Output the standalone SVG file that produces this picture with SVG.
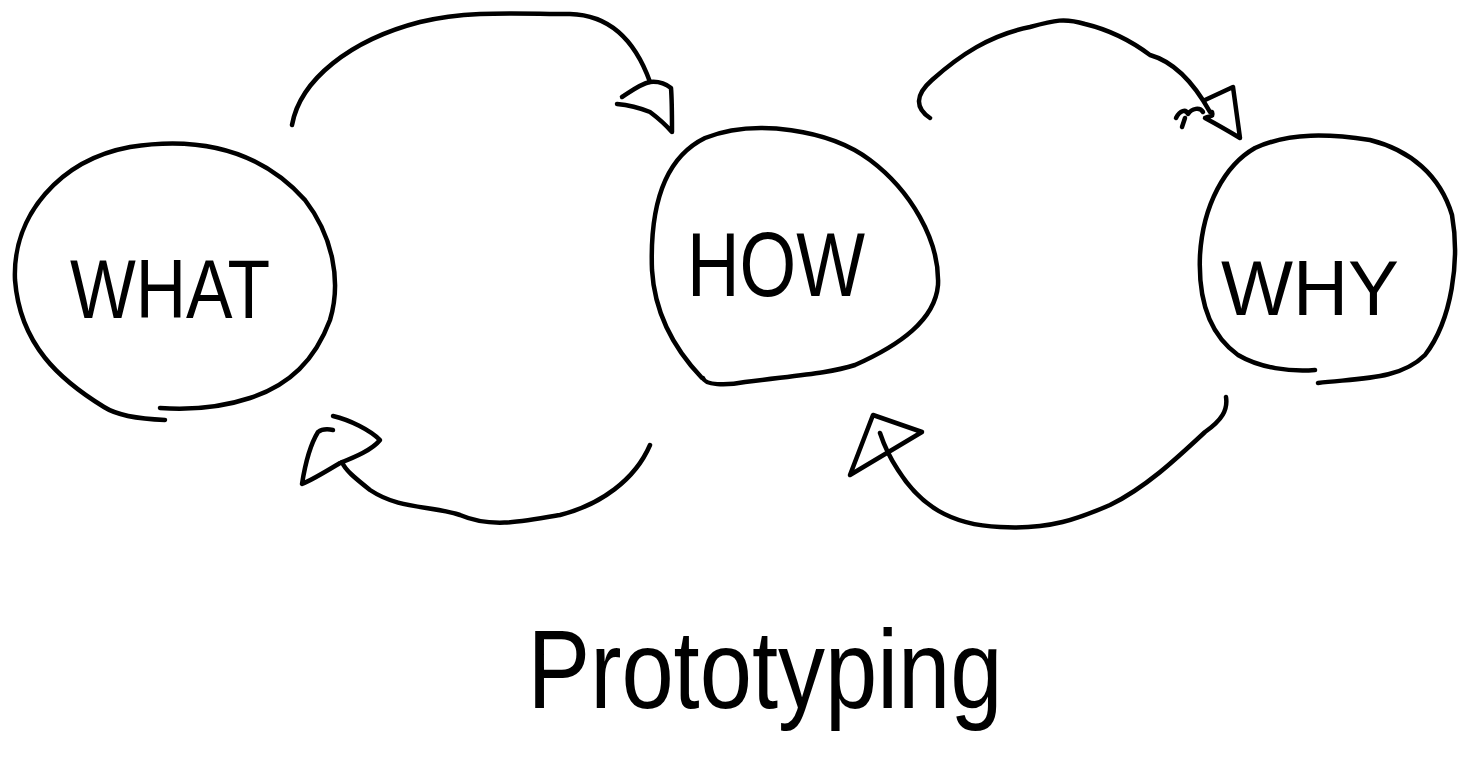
<svg xmlns="http://www.w3.org/2000/svg" width="1458" height="776" viewBox="0 0 1458 776">
<style>
.s{fill:none;stroke:#000;stroke-width:4.5;stroke-linecap:round;stroke-linejoin:round}
.t{font-family:"Liberation Sans","DejaVu Sans",sans-serif;fill:#000;text-anchor:middle}
</style>
<rect width="1458" height="776" fill="#fff"/>
<g id="what">
<path class="s" d="M165,420 C140,419 118,416 104,407 C60,380 20,345 15,280 C12,215 60,160 130,147 C200,136 260,150 305,200 C332,235 342,280 330,320 C315,360 290,385 250,398 C220,408 190,410 160,408"/>
<text class="t" x="170" y="318" font-size="84" textLength="200" lengthAdjust="spacingAndGlyphs">WHAT</text>
</g>
<g id="how">
<path class="s" d="M702,378 C680,355 655,320 652,270 C650,215 660,160 705,138 C755,118 830,130 870,160 C910,190 940,240 938,285 C935,320 900,345 855,365 C830,373 800,375 745,382 C725,386 705,385 703,378"/>
<text class="t" x="776" y="296" font-size="90" textLength="178" lengthAdjust="spacingAndGlyphs">HOW</text>
</g>
<g id="why">
<path class="s" d="M1315,370 C1290,372 1260,368 1238,355 C1210,335 1198,300 1200,255 C1203,205 1225,165 1255,148 C1290,132 1330,134 1370,140 C1410,150 1440,175 1452,215 C1460,260 1452,320 1425,355 C1400,380 1360,378 1318,383"/>
<text class="t" x="1310" y="315" font-size="78" textLength="178" lengthAdjust="spacingAndGlyphs">WHY</text>
</g>
<g id="connectors">
<path class="s" d="M292,125 C300,80 350,40 420,22 C470,10 520,14 570,14 C610,15 635,40 650,82"/>
<path class="s" d="M622,97 C630,92 640,84 650,82 C660,81 666,84 671,88 C672,100 672,115 672,132 C665,124 658,118 650,112 C640,108 628,105 617,104"/>
<path class="s" d="M930,118 C915,108 915,95 932,80 C960,55 990,35 1030,27 C1055,20 1065,18 1085,24 C1110,30 1130,40 1150,55 C1175,62 1195,85 1210,112"/>
<path class="s" d="M1205,100 L1233,87 L1240,138 C1230,132 1218,125 1205,118 C1210,115 1214,118 1212,112"/>
<path class="s" d="M1176,118 C1180,110 1186,109 1188,114 C1192,108 1200,107 1203,112 M1182,127 L1185,118"/>
<path class="s" d="M650,445 C635,480 600,505 560,515 C520,522 490,528 460,515 C430,505 400,510 370,490 C355,478 345,470 342,462"/>
<path class="s" d="M333,416 C350,420 370,430 380,440 C372,450 355,457 340,463 C325,472 312,480 302,484 C305,465 310,445 318,432 C322,429 328,429 333,430"/>
<path class="s" d="M1226,397 C1228,410 1222,420 1205,432 C1175,460 1145,488 1110,505 C1080,518 1050,530 1000,527 C950,525 920,505 898,470 C890,458 885,448 880,433"/>
<path class="s" d="M873,415 L922,432 L850,475 Z"/>
</g>
<text class="t" x="765" y="708" font-size="112" textLength="475" lengthAdjust="spacingAndGlyphs">Prototyping</text>
</svg>
